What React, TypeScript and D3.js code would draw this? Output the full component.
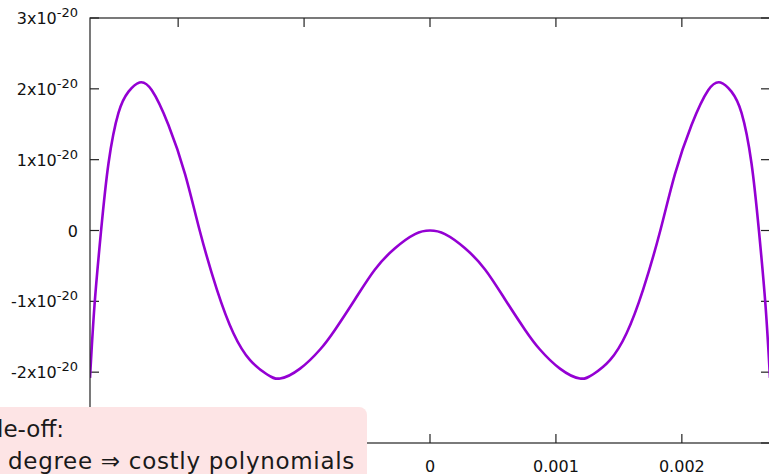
import * as d3 from "d3";

// error curve (y in units of 1e-20)
const xValues = [
  -0.0027, -0.002664, -0.002613, -0.002553, -0.002474, -0.002394, -0.002307, -0.002209,
  -0.002077, -0.001944, -0.001829, -0.001693, -0.001561, -0.001429, -0.001296, -0.00119,
  -0.001032, -0.000873, -0.000754, -0.000595, -0.000437, -0.000278, -0.000119, 0,
  0.000119, 0.000278, 0.000437, 0.000595, 0.000754, 0.000873, 0.001032, 0.00119,
  0.001296, 0.001429, 0.001561, 0.001693, 0.001829, 0.001944, 0.002077, 0.002209,
  0.002307, 0.002394, 0.002474, 0.002553, 0.002613, 0.002664, 0.0027
];
const errValues = [
  -2.08, -1.05, -0.02, 0.95, 1.66, 1.96, 2.09, 1.98,
  1.49, 0.79, 0, -0.83, -1.45, -1.83, -2.03, -2.09,
  -1.95, -1.68, -1.4, -0.97, -0.55, -0.25, -0.05, 0,
  -0.05, -0.25, -0.55, -0.97, -1.4, -1.68, -1.95, -2.09,
  -2.03, -1.83, -1.45, -0.83, 0, 0.79, 1.49, 1.98,
  2.09, 1.96, 1.66, 0.95, -0.02, -1.05, -2.08
];

const xTicks = [-0.002, -0.001, 0, 0.001, 0.002];
const yTicks = [-3, -2, -1, 0, 1, 2, 3];
const noteLines = ["Trade-off:", "degree \u21d2 costly polynomials"];

const W = 769;
const H = 474;
const plot = { left: 90, right: 770, top: 18, bottom: 443 };
const note = { right: 367, top: 407 };
const tickLen = 9;
const axisColor = "#222";
const font = "'DejaVu Sans', sans-serif";

export default function App() {
  const x = d3.scaleLinear().domain([-0.0027, 0.0027]).range([plot.left, plot.right]);
  const y = d3.scaleLinear().domain([-3, 3]).range([plot.bottom, plot.top]);

  const pts: [number, number][] = xValues.map((v, i) => [v, errValues[i]]);
  const line = d3
    .line<[number, number]>()
    .x((d) => x(d[0]))
    .y((d) => y(d[1]))
    .curve(d3.curveNatural);

  const fmtX = (v: number) => (v === 0 ? "0" : d3.format(".3f")(v));
  // labels under the note box are hidden in the original
  const visibleX = xTicks.filter((t) => x(t) > note.right);
  const visibleY = yTicks.filter((t) => y(t) < note.top);

  return (
    <svg
      width={W}
      height={H}
      style={{ position: "absolute", left: 0, top: 0, background: "#fff" }}
      fontFamily={font}
    >
      <defs>
        <clipPath id="plotClip">
          <rect x={plot.left} y={plot.top} width={plot.right - plot.left} height={plot.bottom - plot.top} />
        </clipPath>
      </defs>

      {/* ticks */}
      <g stroke={axisColor} strokeWidth={1.2}>
        {yTicks.map((t) => (
          <g key={"y" + t}>
            <line x1={plot.left} x2={plot.left + tickLen} y1={y(t)} y2={y(t)} />
            <line x1={plot.right - tickLen} x2={plot.right} y1={y(t)} y2={y(t)} />
          </g>
        ))}
        {xTicks.map((t) => (
          <g key={"x" + t}>
            <line x1={x(t)} x2={x(t)} y1={plot.bottom} y2={plot.bottom - tickLen} />
            <line x1={x(t)} x2={x(t)} y1={plot.top} y2={plot.top + tickLen} />
          </g>
        ))}
      </g>

      {/* tick labels */}
      <g fill="#111" fontSize={16}>
        {visibleY.map((t) => (
          <text key={"yl" + t} x={78} y={y(t) + 6} textAnchor="end">
            {t === 0 ? (
              "0"
            ) : (
              <>
                {`${t}x10`}
                <tspan fontSize={13} dy={-7}>
                  -20
                </tspan>
              </>
            )}
          </text>
        ))}
        {visibleX.map((t) => (
          <text key={"xl" + t} x={x(t)} y={472} textAnchor="middle">
            {fmtX(t)}
          </text>
        ))}
      </g>

      {/* curve */}
      <path
        d={line(pts) ?? undefined}
        fill="none"
        stroke="#9400d3"
        strokeWidth={2.6}
        strokeLinejoin="round"
        clipPath="url(#plotClip)"
      />

      {/* border */}
      <rect
        x={plot.left}
        y={plot.top}
        width={plot.right - plot.left}
        height={plot.bottom - plot.top}
        fill="none"
        stroke={axisColor}
        strokeWidth={1.2}
      />

      {/* overlapping note box */}
      <rect x={-20} y={note.top} width={note.right + 20} height={100} rx={8} fill="#fde4e5" />
      <text x={64} y={437} textAnchor="end" fontSize={23} fill="#1a1a1a">
        {noteLines[0]}
      </text>
      <text x={8} y={469} fontSize={23} letterSpacing={0.7} fill="#1a1a1a">
        {noteLines[1]}
      </text>
    </svg>
  );
}
